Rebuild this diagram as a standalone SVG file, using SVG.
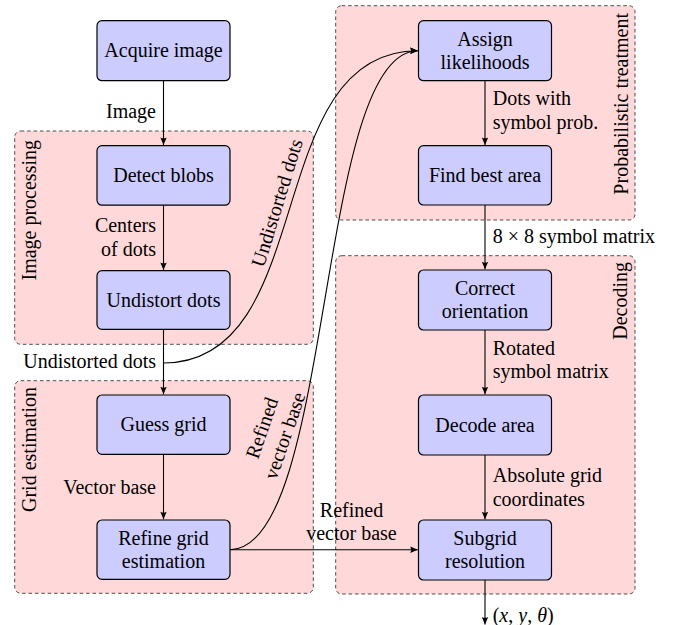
<svg xmlns="http://www.w3.org/2000/svg" width="688" height="625" viewBox="0 0 688 625">
<defs>
<marker id="arr" viewBox="-8 -4 9 8" refX="0" refY="0" markerWidth="9" markerHeight="8" orient="auto" markerUnits="userSpaceOnUse">
<path d="M0,0 L-7.5,-3.2 Q-5.8,0 -7.5,3.2 Z" fill="#000"/>
</marker>
</defs>
<g font-family="Liberation Serif" font-size="20">
<g id="clusters" fill="#ffd9d9" stroke="#3a3a3a" stroke-width="0.9" stroke-dasharray="3.6 2.8">
<g id="cluster-image-processing">
<rect x="14.7" y="131" width="298.6" height="213.3" rx="6"/>
<text fill="#000" stroke="none" transform="translate(36,140) rotate(-90)" text-anchor="end">Image processing</text>
</g>
<g id="cluster-grid-estimation">
<rect x="14.7" y="380.7" width="298.6" height="212.6" rx="6"/>
<text fill="#000" stroke="none" transform="translate(36,387) rotate(-90)" text-anchor="end">Grid estimation</text>
</g>
<g id="cluster-probabilistic">
<rect x="335.7" y="5.7" width="299.3" height="214.3" rx="6"/>
<text fill="#000" stroke="none" transform="translate(628,13) rotate(-90)" text-anchor="end">Probabilistic treatment</text>
</g>
<g id="cluster-decoding">
<rect x="335.7" y="255.7" width="299.3" height="338.3" rx="6"/>
<text fill="#000" stroke="none" transform="translate(627,262) rotate(-90)" text-anchor="end">Decoding</text>
</g>
</g>
<g id="connectors" fill="none" stroke="#000" stroke-width="1.1">
<path marker-end="url(#arr)" d="M163.5,80.7 V145"/>
<path marker-end="url(#arr)" d="M163.5,205 V270"/>
<path marker-end="url(#arr)" d="M163.5,329.3 V394.3"/>
<path marker-end="url(#arr)" d="M163.5,454.3 V519.3"/>
<path marker-end="url(#arr)" d="M163.5,363 C320,363 260,50.7 417.8,50.7"/>
<path marker-end="url(#arr)" d="M230,549.7 C334,549.7 316,50.7 417.8,50.7"/>
<path marker-end="url(#arr)" d="M230,549.7 H417.8"/>
<path marker-end="url(#arr)" d="M485,80.7 V145"/>
<path marker-end="url(#arr)" d="M485,205 V269.3"/>
<path marker-end="url(#arr)" d="M485,330 V394.3"/>
<path marker-end="url(#arr)" d="M485,455 V519.3"/>
<path marker-end="url(#arr)" d="M485,580 V624.5"/>
</g>
<g id="connector-labels" fill="#000">
<text text-anchor="end" x="156" y="118.3">Image</text>
<text text-anchor="end" x="156" y="232.3">Centers</text>
<text text-anchor="end" x="156" y="255.7">of dots</text>
<text text-anchor="end" x="156" y="368.3">Undistorted dots</text>
<text text-anchor="end" x="156" y="494">Vector base</text>
<text text-anchor="middle" transform="translate(283.3,204.9) rotate(-72.8)">Undistorted dots</text>
<text text-anchor="middle" transform="translate(291,438) rotate(-71)"><tspan x="0" y="-24">Refined</tspan><tspan x="0" y="0">vector base</tspan></text>
<text text-anchor="middle" x="351.5" y="516.7">Refined</text>
<text text-anchor="middle" x="351.5" y="540">vector base</text>
<text x="492.7" y="105">Dots with</text>
<text x="492.7" y="129.3">symbol prob.</text>
<text x="492.7" y="242.7">8 × 8 symbol matrix</text>
<text x="492.7" y="355">Rotated</text>
<text x="492.7" y="378.3">symbol matrix</text>
<text x="492.7" y="482.3">Absolute grid</text>
<text x="492.7" y="505.7">coordinates</text>
<text x="492.7" y="621.5">(<tspan font-style="italic">x</tspan>, <tspan font-style="italic">y</tspan>, <tspan font-style="italic">θ</tspan>)</text>
</g>
<g id="nodes" text-anchor="middle">
<g id="node-acquire">
<rect fill="#ccccff" stroke="#000" stroke-width="1.2" x="97" y="20.7" width="133" height="60" rx="5"/>
<text x="163.5" y="57.3">Acquire image</text>
</g>
<g id="node-detect">
<rect fill="#ccccff" stroke="#000" stroke-width="1.2" x="97" y="145.7" width="133" height="59.5" rx="5"/>
<text x="163.5" y="182">Detect blobs</text>
</g>
<g id="node-undistort">
<rect fill="#ccccff" stroke="#000" stroke-width="1.2" x="97" y="270.7" width="133" height="58.6" rx="5"/>
<text x="163.5" y="306.6">Undistort dots</text>
</g>
<g id="node-guess">
<rect fill="#ccccff" stroke="#000" stroke-width="1.2" x="97" y="395" width="133" height="59.3" rx="5"/>
<text x="163.5" y="430.8">Guess grid</text>
</g>
<g id="node-refine">
<rect fill="#ccccff" stroke="#000" stroke-width="1.2" x="97" y="520" width="133" height="59.3" rx="5"/>
<text x="163.5" y="545">Refine grid</text>
<text x="163.5" y="568.4">estimation</text>
</g>
<g id="node-assign">
<rect fill="#ccccff" stroke="#000" stroke-width="1.2" x="418.5" y="20.7" width="133" height="60" rx="5"/>
<text x="485" y="45.7">Assign</text>
<text x="485" y="69.3">likelihoods</text>
</g>
<g id="node-findbest">
<rect fill="#ccccff" stroke="#000" stroke-width="1.2" x="418.5" y="145.7" width="133" height="59.3" rx="5"/>
<text x="485" y="182">Find best area</text>
</g>
<g id="node-correct">
<rect fill="#ccccff" stroke="#000" stroke-width="1.2" x="418.5" y="270" width="133" height="60" rx="5"/>
<text x="485" y="295">Correct</text>
<text x="485" y="318.3">orientation</text>
</g>
<g id="node-decode">
<rect fill="#ccccff" stroke="#000" stroke-width="1.2" x="418.5" y="395" width="133" height="60" rx="5"/>
<text x="485" y="431.5">Decode area</text>
</g>
<g id="node-subgrid">
<rect fill="#ccccff" stroke="#000" stroke-width="1.2" x="418.5" y="520" width="133" height="60" rx="5"/>
<text x="485" y="545">Subgrid</text>
<text x="485" y="568.4">resolution</text>
</g>
</g>
</g>
</svg>
